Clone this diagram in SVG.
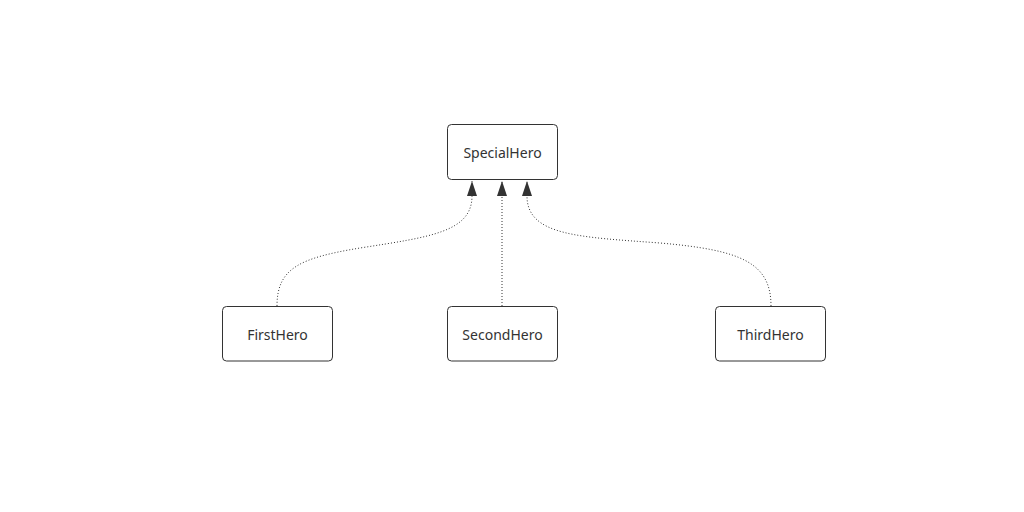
<svg xmlns="http://www.w3.org/2000/svg" width="1024" height="512" viewBox="0 0 1024 512">
<style>
.node rect{fill:#fff;stroke:#333;stroke-width:1}
.node text{font-family:"Noto Sans","Liberation Sans",sans-serif;font-size:14px;fill:#333;text-anchor:middle;dominant-baseline:central}
.edge{fill:none;stroke:#333;stroke-width:1;stroke-dasharray:1 2}
</style>
<defs>
<marker id="arr" viewBox="0 0 15 10" refX="15" refY="5" markerWidth="15" markerHeight="10" markerUnits="userSpaceOnUse" orient="auto">
<path d="M0,0 L15,5 L0,10 z" fill="#333"/>
</marker>
</defs>
<rect width="1024" height="512" fill="#fff"/>
<g id="connectors">
<path class="edge" d="M277,306 C277,268 300,258 360,248 C430,237 472,232 472,196 L472,181" marker-end="url(#arr)"/>
<path class="edge" d="M502,306 L502,181" marker-end="url(#arr)"/>
<path class="edge" d="M771,306 C771,262 740,250 660,243 C580,237 527,236 527,196 L527,181" marker-end="url(#arr)"/>
</g>
<g id="SpecialHero" class="node"><rect x="447.5" y="124.5" width="110" height="55" rx="4"/><text x="502.5" y="152">SpecialHero</text></g>
<g id="FirstHero" class="node"><rect x="222.5" y="306.5" width="110" height="54.5" rx="4"/><text x="277.5" y="334">FirstHero</text></g>
<g id="SecondHero" class="node"><rect x="447.5" y="306.5" width="110" height="54.5" rx="4"/><text x="502.5" y="334">SecondHero</text></g>
<g id="ThirdHero" class="node"><rect x="715.5" y="306.5" width="110" height="54.5" rx="4"/><text x="770.5" y="334">ThirdHero</text></g>
</svg>
